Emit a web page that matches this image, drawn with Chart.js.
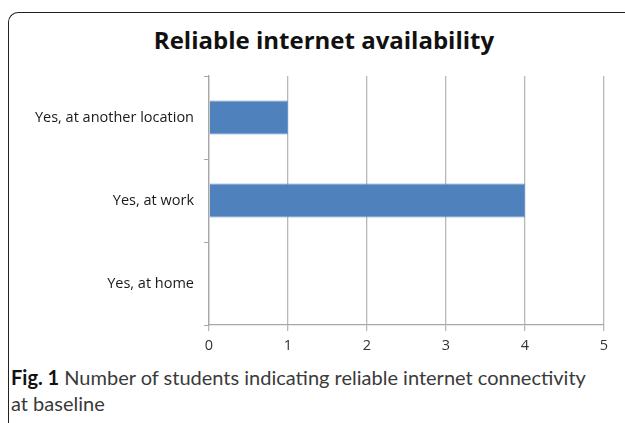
<!DOCTYPE html>
<html>
<head>
<meta charset="utf-8">
<script src="https://cdn.jsdelivr.net/npm/chart.js@4"></script>
<style>
  body { margin: 0; background: #fff; width: 625px; height: 423px; overflow: hidden; position: relative; }
  .frame { position: absolute; left: 8px; top: 12px; width: 640px; height: 420px;
           border-left: 1.5px solid #222; border-top: 1.5px solid #222; border-top-left-radius: 10px; }
  .title { position: absolute; left: 0; top: 22px; width: 648px; text-align: center;
           font-family: "Open Sans", sans-serif; font-weight: bold; font-size: 24px; line-height: 36px; color: #111; }
  .wrap { position: absolute; left: 0; top: 0; width: 625px; height: 360px; }
  .caption { position: absolute; left: 11px; top: 364px; width: 600px;
             font-family: Lato, sans-serif; font-size: 20px; line-height: 26px; color: #3a3a3a; }
  .caption b { color: #111; }
</style>
</head>
<body>
<div class="frame"></div>
<div class="title">Reliable internet availability</div>
<div class="wrap"><canvas id="chart"></canvas></div>
<div class="caption"><b>Fig. 1</b> Number of students indicating reliable internet connectivity<br>at baseline</div>
<script>
// chart data
const categories = ["Yes, at another location", "Yes, at work", "Yes, at home"];
const students = [1, 4, 0];
const xTicks = [0, 1, 2, 3, 4, 5];

document.addEventListener("DOMContentLoaded", () => {
  const ctx = document.getElementById("chart");
  new Chart(ctx, {
    type: "bar",
    data: {
      labels: categories,
      datasets: [{
        label: "Students",
        data: students,
        backgroundColor: "#4f81bd",
        borderColor: "#6a94c6",
        borderWidth: 1,
        barPercentage: 0.82,
        categoryPercentage: 0.5
      }]
    },
    options: {
      indexAxis: "y",
      responsive: true,
      maintainAspectRatio: false,
      animation: false,
      layout: { padding: { left: 0, right: 21, top: 76, bottom: 0 } },
      plugins: {
        legend: { display: false },
        tooltip: { enabled: false },
        title: { display: false }
      },
      scales: {
        x: {
          min: 0,
          max: 5,
          afterBuildTicks: s => { s.ticks = xTicks.map(v => ({ value: v })); },
          afterFit: s => { s.height = 35; },
          grid: { color: "#b8b8b8", lineWidth: 1.3, tickLength: 6, drawTicks: true },
          border: { color: "#a8a8a8", width: 1.3 },
          ticks: { color: "#333", font: { family: "Open Sans", size: 14.5 }, padding: 6 }
        },
        y: {
          afterFit: s => { s.width = 209; },
          grid: { offset: true, drawOnChartArea: false, color: "#a8a8a8", tickLength: 5 },
          border: { color: "#a8a8a8", width: 1.3 },
          ticks: { color: "#1a1a1a", font: { family: "Open Sans", size: 14.5 }, padding: 10 }
        }
      }
    }
  });
});
</script>
</body>
</html>
